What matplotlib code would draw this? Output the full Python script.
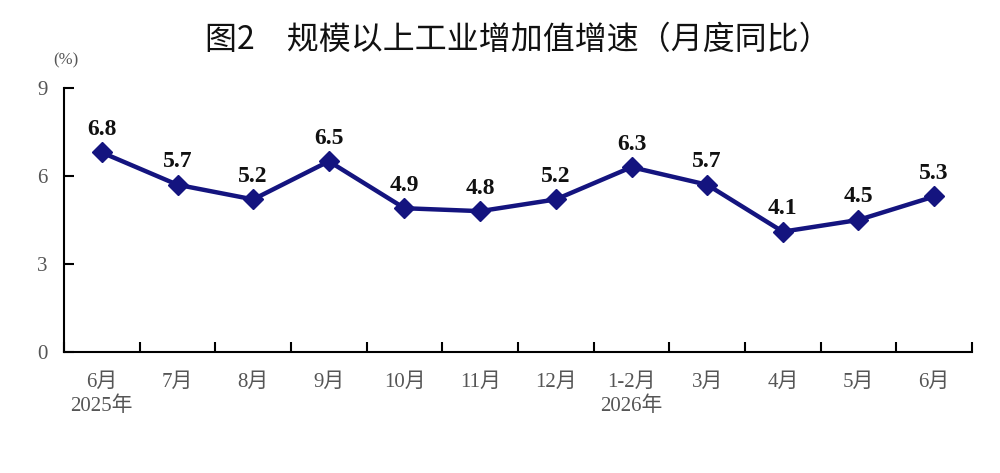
import matplotlib
matplotlib.use('Agg')
from matplotlib import pyplot as plt
import numpy as np

plt.rcParams['font.family'] = ['Liberation Serif', 'Noto Sans CJK SC', 'DejaVu Sans']

months = ['6月\n2025年', '7月', '8月', '9月', '10月', '11月', '12月',
          '1-2月\n2026年', '3月', '4月', '5月', '6月']
growth = [6.8, 5.7, 5.2, 6.5, 4.9, 4.8, 5.2, 6.3, 5.7, 4.1, 4.5, 5.3]
yticks = [0, 3, 6, 9]

navy = '#14147f'
grey = '#555555'

fig = plt.figure(figsize=(10, 4.73), dpi=100)
ax = fig.add_axes([0.064, 0.256, 0.908, 0.558])

x = np.arange(len(months))
ax.plot(x, growth, color=navy, lw=3.2, marker='D', ms=10, zorder=3)

for xi, v in zip(x, growth):
    ax.annotate(f'{v:.1f}', (xi, v), xytext=(0, 9), textcoords='offset points',
                ha='center', va='bottom', fontsize=17, fontweight='bold',
                family=['Liberation Serif'], color='#111111')

ax.set_xlim(-0.5, len(months) - 0.5)
ax.set_ylim(0, 9)
ax.set_yticks(yticks)
ax.set_yticklabels([str(t) for t in yticks])

ax.set_xticks(np.arange(len(months) + 1) - 0.5)
ax.set_xticklabels([])
ax.set_xticks(x, minor=True)
ax.set_xticklabels(months, minor=True)
ax.tick_params(axis='x', which='major', direction='in', length=7, width=1.5)
ax.tick_params(axis='x', which='minor', length=0, pad=15, labelsize=15,
               labelcolor=grey)
ax.tick_params(axis='y', direction='in', length=7, width=1.5, pad=12,
               labelsize=15, labelcolor=grey)
for lab in ax.get_xticklabels(minor=True):
    lab.set_linespacing(1.3)

ax.spines['top'].set_visible(False)
ax.spines['right'].set_visible(False)
ax.spines['left'].set_linewidth(1.5)
ax.spines['bottom'].set_linewidth(1.5)

ax.text(0.002, 1.075, '(%)', transform=ax.transAxes, ha='center', va='bottom',
        fontsize=12, color=grey)

fig.text(0.518, 0.915, '图2　规模以上工业增加值增速（月度同比）', ha='center',
         va='center', fontsize=23, fontweight='medium',
         family=['Noto Sans CJK SC'], color='#111111')

fig.savefig('out.png', dpi=100)
